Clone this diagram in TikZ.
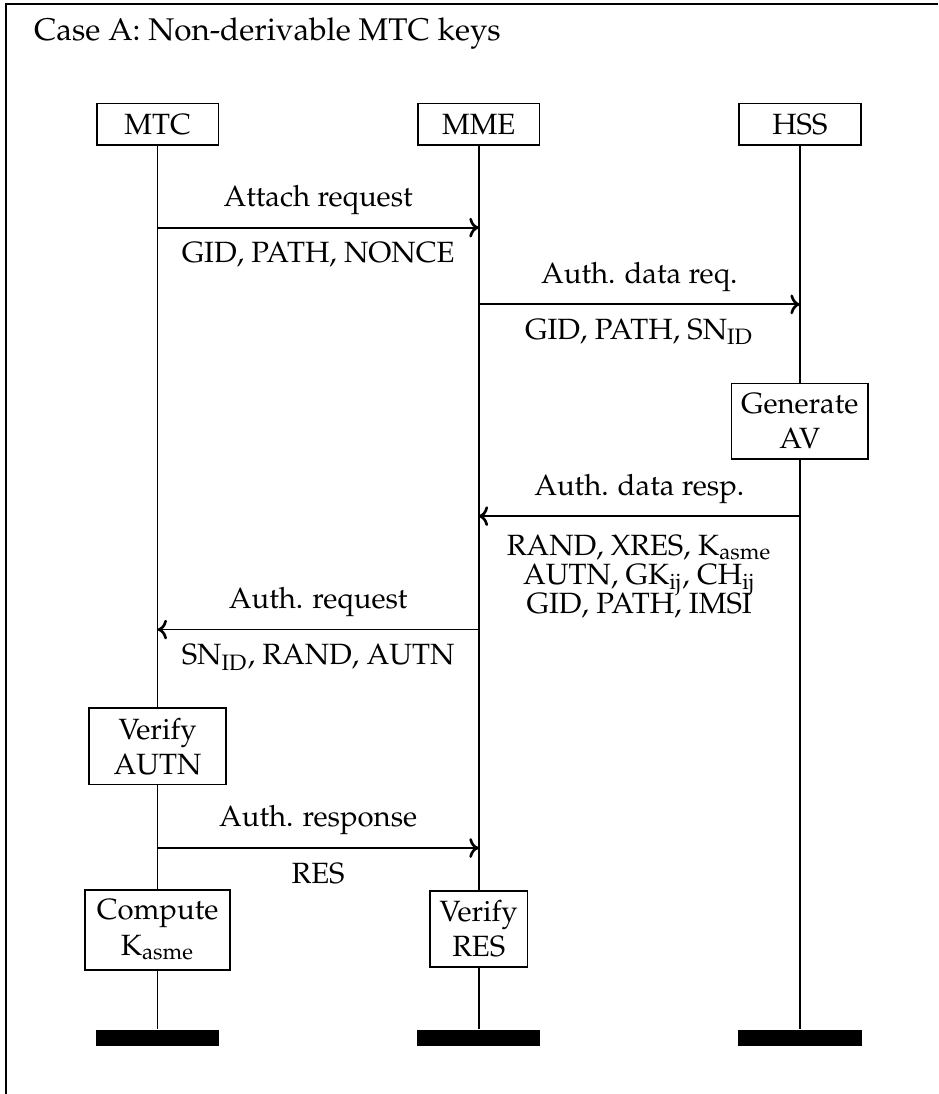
\documentclass[tikz,border=0pt]{standalone}
\usepackage[T1]{fontenc}
\usepackage{mathpazo}
\usetikzlibrary{positioning,arrows.meta}

\begin{document}
\begin{tikzpicture}[node distance=2.37cm,semithick,
  ent/.style={draw,minimum width=1.46cm,minimum height=0.5cm,inner sep=0pt},
  act/.style={draw,fill=white,align=center},
  endbar/.style={fill=black,minimum width=1.48cm,minimum height=0.19cm,inner sep=0pt},
  life/.style={semithick},
  msg/.style={semithick,-{To[scale=1.1,line width=0.9pt]}},
  up/.style={anchor=base,yshift=7.2pt},
  dn/.style={anchor=base,yshift=-12pt}]
  \useasboundingbox (0,0) rectangle (11.25,-13.12);
  \draw (0.07,-13.12) |- (11.25,-0.05);
  \node[anchor=base west,inner sep=0pt,font=\fontsize{10.7pt}{13pt}\selectfont] (title) at (0.4,-0.49) {Case A: Non-derivable MTC keys};
  % entities
  \node[ent] (mtc) at (1.89,-1.49) {MTC};
  \node[ent,right=of mtc] (mme) {MME};
  \node[ent,right=of mme] (hss) {HSS};
  % local steps
  \node[act,minimum width=1.64cm] (gen) at (hss |- 0,-5.05) {Generate\\AV};
  \node[act,minimum width=1.64cm] (vautn) at (mtc |- 0,-8.95) {Verify\\AUTN};
  \node[act,minimum width=1.74cm] (comp) at (mtc |- 0,-11.15) {Compute\\K\textsubscript{asme}};
  \node[act,minimum width=1.13cm] (vres) at (mme |- 0,-11.14) {Verify\\RES};
  % end bars
  \node[endbar] (mtcend) at (mtc |- 0,-12.45) {};
  \node[endbar] (mmeend) at (mme |- 0,-12.45) {};
  \node[endbar] (hssend) at (hss |- 0,-12.45) {};
  % lifelines
  \draw[life] (mtc) -- (vautn) -- (comp) -- (mtcend);
  \draw[life] (mme) -- (vres) -- (mmeend);
  \draw[life] (hss) -- (gen) -- (hssend);
  % messages
  \coordinate (r1) at (0,-2.73);
  \coordinate (r2) at (0,-3.65);
  \coordinate (r3) at (0,-6.19);
  \coordinate (r4) at (0,-7.55);
  \coordinate (r5) at (0,-10.17);
  \draw[msg] (mtc |- r1) -- node[up] (l1a) {Attach request} node[dn] (l1b) {GID, PATH, NONCE} (mme |- r1);
  \draw[msg] (mme |- r2) -- node[up] (l2a) {Auth. data req.} node[dn] (l2b) {GID, PATH, SN\textsubscript{ID}} (hss |- r2);
  \draw[msg] (hss |- r3) -- node[up] (l3a) {Auth. data resp.}
    node[anchor=north,yshift=-2.8pt,align=center] (l3b) {RAND, XRES, K\textsubscript{asme}\\[-2pt]AUTN, GK\textsubscript{ij}, CH\textsubscript{ij}\\[-2pt]GID, PATH, IMSI} (mme |- r3);
  \draw[msg] (mme |- r4) -- node[up] (l4a) {Auth. request} node[dn] (l4b) {SN\textsubscript{ID}, RAND, AUTN} (mtc |- r4);
  \draw[msg] (mtc |- r5) -- node[up] (l5a) {Auth. response} node[dn] (l5b) {RES} (mme |- r5);
\end{tikzpicture}
\end{document}
